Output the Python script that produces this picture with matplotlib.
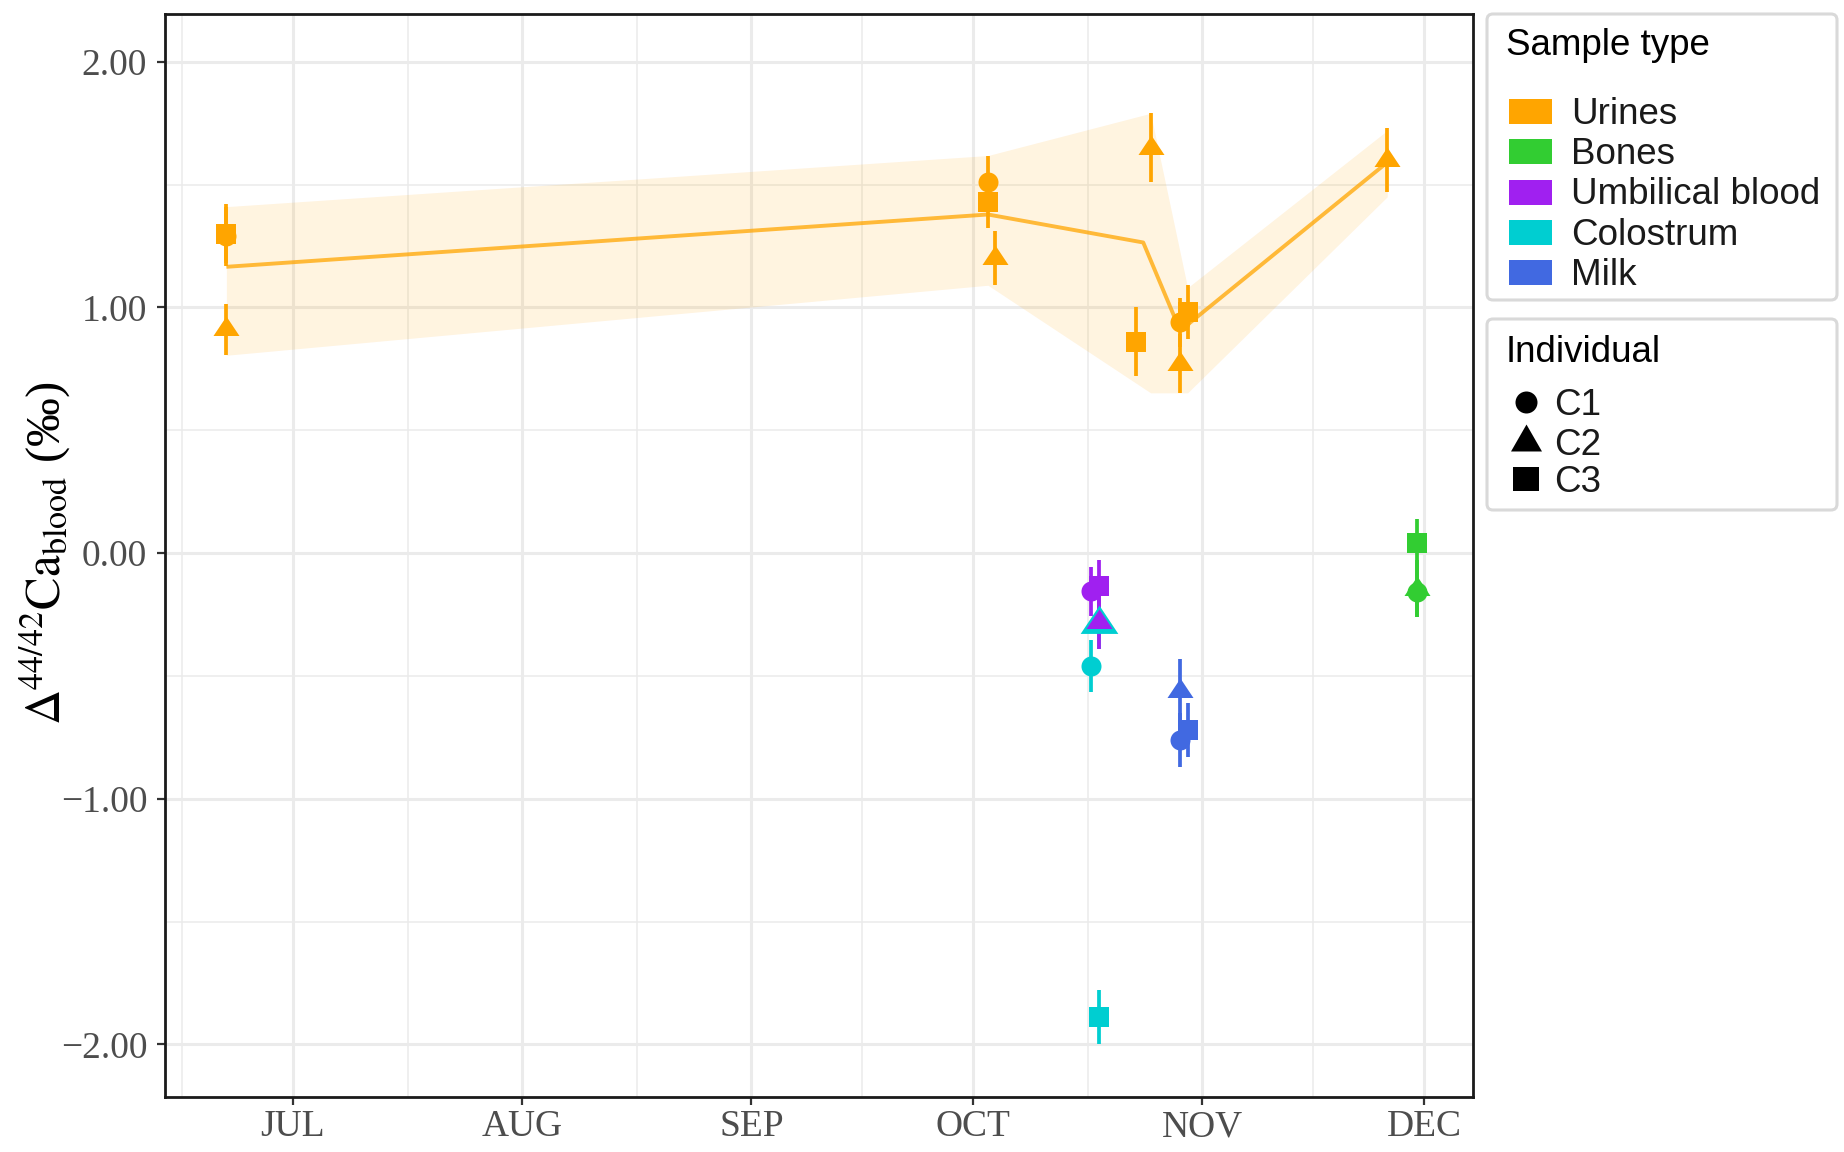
import numpy as np
import matplotlib
matplotlib.use("Agg")
import matplotlib.pyplot as plt
import matplotlib.dates as mdates
import matplotlib.transforms as mtransforms
from matplotlib.path import Path
from matplotlib.patches import FancyBboxPatch, Rectangle
from matplotlib.lines import Line2D
from matplotlib.ticker import FixedLocator, FuncFormatter
import datetime as dt

W, H, DPI = 1844, 1152, 100

# ---------------- data ----------------
sample_types = ["Urines", "Bones", "Umbilical blood", "Colostrum", "Milk"]
type_colors = ["#FFA500", "#32CD32", "#A020F0", "#00CED1", "#4169E1"]
individuals = ["C1", "C2", "C3"]

urine_dates = ["2019-06-22", "2019-06-22", "2019-06-22", "2019-10-03", "2019-10-03",
               "2019-10-04", "2019-10-23", "2019-10-25", "2019-10-29", "2019-10-29",
               "2019-10-30", "2019-11-26"]
urine_ind = ["C1", "C3", "C2", "C1", "C3", "C2", "C3", "C2", "C1", "C2", "C3", "C2"]
urine_val = [1.29, 1.30, 0.91, 1.51, 1.43, 1.20, 0.86, 1.65, 0.94, 0.77, 0.98, 1.60]
urine_err = [0.12, 0.12, 0.105, 0.105, 0.105, 0.11, 0.14, 0.14, 0.10, 0.12, 0.11, 0.13]

bone_dates = ["2019-11-30", "2019-11-30", "2019-11-30"]
bone_ind = ["C1", "C2", "C3"]
bone_val = [-0.16, -0.145, 0.04]
bone_err = [0.10, 0.115, 0.10]

umb_dates = ["2019-10-17", "2019-10-18", "2019-10-18"]
umb_ind = ["C1", "C2", "C3"]
umb_val = [-0.155, -0.28, -0.135]
umb_err = [0.10, 0.11, 0.107]

colo_dates = ["2019-10-17", "2019-10-18", "2019-10-18"]
colo_ind = ["C1", "C2", "C3"]
colo_val = [-0.46, -0.29, -1.89]
colo_err = [0.107, 0.10, 0.11]

milk_dates = ["2019-10-29", "2019-10-29", "2019-10-30"]
milk_ind = ["C1", "C2", "C3"]
milk_val = [-0.76, -0.56, -0.72]
milk_err = [0.11, 0.13, 0.11]

# urine mean line and envelope
line_dates = ["2019-06-22", "2019-10-03", "2019-10-24", "2019-10-29", "2019-11-26"]
line_val = [1.165, 1.378, 1.264, 0.905, 1.59]
ribbon_dates = ["2019-06-22", "2019-10-03", "2019-10-25", "2019-10-30", "2019-11-26"]
ribbon_low = [0.805, 1.09, 0.652, 0.652, 1.45]
ribbon_high = [1.41, 1.618, 1.79, 1.08, 1.72]

month_ticks = ["2019-07-01", "2019-08-01", "2019-09-01", "2019-10-01", "2019-11-01", "2019-12-01"]
month_labels = ["JUL", "AUG", "SEP", "OCT", "NOV", "DEC"]
y_ticks = [-2, -1, 0, 1, 2]
y_minor = [-1.5, -0.5, 0.5, 1.5]

# ---------------- helpers ----------------
def dnum(lst):
    return mdates.date2num([dt.datetime.strptime(s, "%Y-%m-%d") for s in lst])


def tri_marker(ratio):
    h = ratio
    return Path([(0, 2 * h / 3), (-0.5, -h / 3), (0.5, -h / 3), (0, 2 * h / 3)],
                [Path.MOVETO, Path.LINETO, Path.LINETO, Path.CLOSEPOLY])


def rect_marker(ratio):
    h = ratio / 2
    return Path([(-0.5, -h), (0.5, -h), (0.5, h), (-0.5, h), (-0.5, -h)],
                [Path.MOVETO, Path.LINETO, Path.LINETO, Path.LINETO, Path.CLOSEPOLY])


PX = 0.72  # points per pixel at 100 dpi
TRI_RATIO = 0.75
marker_style = {
    "C1": dict(marker="o", ms=20 * PX),
    "C2": dict(marker=tri_marker(TRI_RATIO), ms=26 * PX / (0.5 / max(0.5, 2 * TRI_RATIO / 3))),
    "C3": dict(marker="s", ms=20 * PX),
}
size_boost = {("Colostrum", "C2"): 1.45}

plt.rcParams["mathtext.fontset"] = "stix"

fig = plt.figure(figsize=(W / DPI, H / DPI), dpi=DPI)
ax = fig.add_axes([165 / W, 1 - 1097 / H, (1473 - 165) / W, (1097 - 14) / H])

# ribbon & mean line
ax.fill_between(dnum(ribbon_dates), ribbon_low, ribbon_high, color="#FFA500",
                alpha=0.12, lw=0, zorder=1)
ax.plot(dnum(line_dates), line_val, color="#FFA500", alpha=0.75, lw=2.8,
        solid_joinstyle="round", solid_capstyle="butt", zorder=2)

groups = {
    "Urines": (urine_dates, urine_ind, urine_val, urine_err),
    "Bones": (bone_dates, bone_ind, bone_val, bone_err),
    "Umbilical blood": (umb_dates, umb_ind, umb_val, umb_err),
    "Colostrum": (colo_dates, colo_ind, colo_val, colo_err),
    "Milk": (milk_dates, milk_ind, milk_val, milk_err),
}
draw_order = ["Urines", "Bones", "Colostrum", "Umbilical blood", "Milk"]
z = 3
for name in draw_order:
    dates, ind, val, err = groups[name]
    col = type_colors[sample_types.index(name)]
    x = dnum(dates)
    for xi, ii, vi, ei in zip(x, ind, val, err):
        ax.vlines(xi, vi - ei, vi + ei, color=col, lw=2.7, zorder=z)
        st = marker_style[ii]
        boost = size_boost.get((name, ii), 1.0)
        ax.plot([xi], [vi], linestyle="none", marker=st["marker"], ms=st["ms"] * boost,
                color=col, mec="none", mew=0, zorder=z + 0.5)
        z += 0.01

# axes styling
x0 = mdates.date2num(dt.datetime(2019, 7, 1))
ax.set_xlim(x0 - 17.3, x0 + 153 + 6.6)
ax.set_ylim(-2.214, 2.194)

mt = dnum(month_ticks)
ax.xaxis.set_major_locator(FixedLocator(mt))
ax.set_xticklabels(month_labels)
prev = x0 - 30
mids = [(a + b) / 2 for a, b in zip(np.r_[prev, mt[:-1]], mt)]
ax.xaxis.set_minor_locator(FixedLocator(mids))
ax.yaxis.set_major_locator(FixedLocator(y_ticks))
ax.yaxis.set_minor_locator(FixedLocator(y_minor))
ax.yaxis.set_major_formatter(FuncFormatter(lambda v, p: f"{v:.2f}".replace("-", "\u2212")))

ax.grid(which="major", color="#EBEBEB", lw=2.2)
ax.grid(which="minor", color="#EBEBEB", lw=1.1)
ax.set_axisbelow(True)
for s in ax.spines.values():
    s.set_color("#1A1A1A")
    s.set_linewidth(2.0)
ax.tick_params(which="major", length=5.8, width=1.6, color="#333333",
               labelcolor="#4D4D4D", labelsize=27)
ax.tick_params(which="minor", length=0)
ax.tick_params(axis="y", pad=7)
ax.tick_params(axis="x", pad=3.5)
for lab in ax.get_xticklabels() + ax.get_yticklabels():
    lab.set_fontfamily("Liberation Serif")

pix = mtransforms.Affine2D().scale(1 / W, -1 / H).translate(0, 1) + fig.transFigure

# y label
fig.text(45, 553, r"$\Delta^{44/42}\mathrm{Ca}_{\mathrm{blood}}$ (‰)", transform=pix,
         rotation=90, ha="center", va="center", fontsize=35,
         family="Liberation Serif", color="black")

# legends (manual)
FS = 26.5
for (y0, y1) in [(14, 300), (319, 510)]:
    fig.add_artist(FancyBboxPatch((1487, y0), 350, y1 - y0,
                                  boxstyle="round,pad=0,rounding_size=6",
                                  transform=pix, fc="white", ec="#D9D9D9", lw=2.2))
fig.text(1506, 55, "Sample type", transform=pix, ha="left", va="baseline",
         fontsize=FS, family="Liberation Sans", color="black")
for i, (name, col) in enumerate(zip(sample_types, type_colors)):
    cy = 111.5 + i * 40.25
    fig.add_artist(Rectangle((1509, cy - 12.5), 43, 25, transform=pix, fc=col, ec="none"))
    fig.text(1571, cy + 12.5, name, transform=pix, ha="left", va="baseline",
             fontsize=FS, family="Liberation Sans", color="#1A1A1A")

fig.text(1506, 362, "Individual", transform=pix, ha="left", va="baseline",
         fontsize=FS, family="Liberation Sans", color="black")
leg_markers = {
    "C1": dict(marker="o", ms=22 * PX, y=402),
    "C2": dict(marker=tri_marker(0.87), ms=31 * PX / (0.5 / max(0.5, 2 * 0.87 / 3)), y=442),
    "C3": dict(marker=rect_marker(24 / 27), ms=27 * PX, y=479),
}
for lab in individuals:
    st = leg_markers[lab]
    fig.add_artist(Line2D([1526], [st["y"]], transform=pix, linestyle="none",
                          marker=st["marker"], ms=st["ms"], color="black", mew=0))
    fig.text(1554, st["y"] + 13, lab, transform=pix, ha="left", va="baseline",
             fontsize=FS, family="Liberation Sans", color="#1A1A1A")

fig.savefig("out.png", dpi=DPI)
